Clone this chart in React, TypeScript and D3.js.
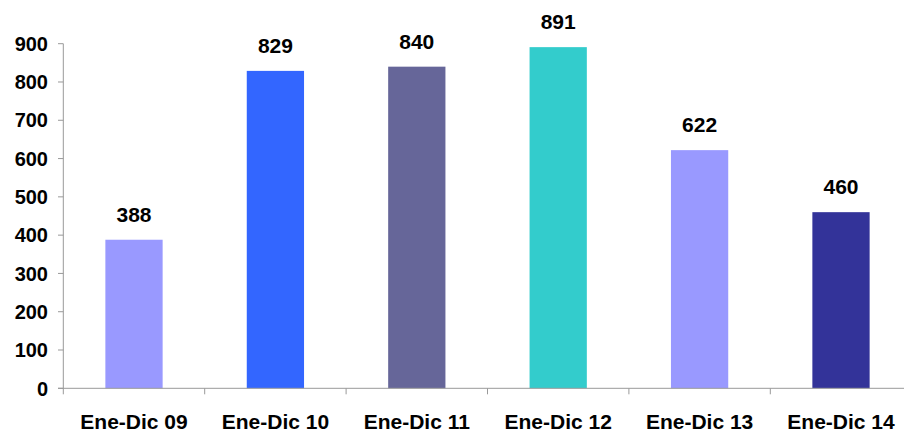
import React from "react";
import * as d3 from "d3";

const categories = ["Ene-Dic 09", "Ene-Dic 10", "Ene-Dic 11", "Ene-Dic 12", "Ene-Dic 13", "Ene-Dic 14"];
const values = [388, 829, 840, 891, 622, 460];
const colors = ["#9999FF", "#3366FF", "#666699", "#33CCCC", "#9999FF", "#333399"];
const yTicks = [0, 100, 200, 300, 400, 500, 600, 700, 800, 900];

const W = 904;
const H = 433;
const axisColor = "#999999";
const font = "'Liberation Sans', Arial, sans-serif";

export default function App() {
  const x = d3.scaleBand<string>().domain(categories).range([63.3, 911.7]).padding(0);
  const y = d3.scaleLinear().domain([0, 900]).range([388.3, 43.7]);
  const bw = x.bandwidth() * 0.405;
  const boundaries = categories.map((c) => x(c) as number).concat([x.range()[1]]);

  return (
    <svg width={W} height={H} style={{ position: "absolute", left: 0, top: 0, background: "#fff" }}>
      {categories.map((c, i) => {
        const cx = (x(c) as number) + x.bandwidth() / 2;
        return (
          <g key={c}>
            <rect x={cx - bw / 2} y={y(values[i])} width={bw} height={y(0) - y(values[i])} fill={colors[i]} />
            <text x={cx} y={y(values[i]) - 18} textAnchor="middle" fontFamily={font} fontWeight="bold" fontSize={21} fill="#000">
              {values[i]}
            </text>
            <text x={cx} y={428.5} textAnchor="middle" fontFamily={font} fontWeight="bold" fontSize={21} fill="#000">
              {c}
            </text>
          </g>
        );
      })}
      <line x1={63.3} x2={63.3} y1={y(900)} y2={y(0)} stroke={axisColor} strokeWidth={1} />
      <line x1={58} x2={W} y1={y(0)} y2={y(0)} stroke={axisColor} strokeWidth={1} />
      {yTicks.map((t) => (
        <g key={t}>
          <line x1={58} x2={63.3} y1={y(t)} y2={y(t)} stroke={axisColor} strokeWidth={1} />
          <text x={48} y={y(t)} dy="0.36em" textAnchor="end" fontFamily={font} fontWeight="bold" fontSize={20} fill="#000">
            {t}
          </text>
        </g>
      ))}
      {boundaries.map((b, i) => (
        <line key={i} x1={b} x2={b} y1={y(0)} y2={y(0) + 6} stroke={axisColor} strokeWidth={1} />
      ))}
    </svg>
  );
}
